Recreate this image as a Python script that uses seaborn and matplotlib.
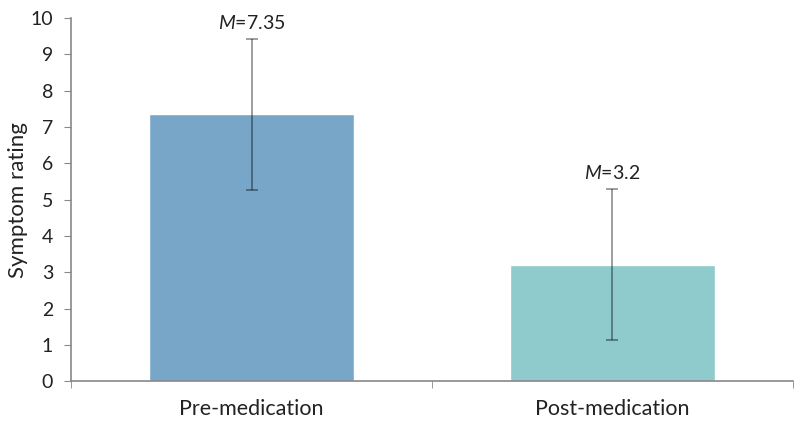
import matplotlib
matplotlib.use("Agg")
import matplotlib.pyplot as plt
import seaborn as sns
import pandas as pd

conditions = ["Pre-medication", "Post-medication"]
means = [7.35, 3.2]
sds = [2.08, 2.08]
bar_colors = ["#77A6C9", "#8FCBCC"]

sns.set_style("white")
plt.rcParams["font.family"] = ["Lato", "DejaVu Sans"]
plt.rcParams["mathtext.fontset"] = "custom"
plt.rcParams["mathtext.it"] = "Lato:italic"
plt.rcParams["mathtext.rm"] = "Lato"

df = pd.DataFrame({"condition": conditions, "rating": means})

fig = plt.figure(figsize=(8, 4.23), dpi=100)
ax = fig.add_axes([0.089, 0.099, 0.902, 0.858])

sns.barplot(data=df, x="condition", y="rating", hue="condition",
            palette=bar_colors, width=0.57, errorbar=None, legend=False,
            saturation=1, ax=ax)

# error bars (semi-transparent so they look light above the bar, dark inside)
ax.errorbar(range(len(conditions)), means, yerr=sds, fmt="none",
            ecolor="black", alpha=0.38, elinewidth=1.4, capsize=4, capthick=1.4)

for i, (m, s) in enumerate(zip(means, sds)):
    ax.text(i, m + s + 0.2, f"$M$={m:g}", ha="center", va="bottom",
            fontsize=14, color="#222222")

ax.set_ylim(0, 10)
ax.set_xlim(-0.5, 1.5)
ax.set_yticks(range(0, 11))
ax.tick_params(axis="y", labelsize=14, length=5, color="#888888",
               direction="out", left=True, pad=8, labelcolor="#222222")
ax.set_xticks([0, 1])
ax.set_xticklabels(conditions, fontsize=15.5, color="#222222")
ax.tick_params(axis="x", length=0, pad=13)
ax.set_xticks([-0.5, 0.5, 1.5], minor=True)
ax.tick_params(axis="x", which="minor", length=5, color="#888888", direction="out", bottom=True)

ax.set_xlabel("")
ax.set_ylabel("Symptom rating", fontsize=16, color="#222222", labelpad=2)

for side in ["top", "right"]:
    ax.spines[side].set_visible(False)
for side in ["left", "bottom"]:
    ax.spines[side].set_color("#888888")
    ax.spines[side].set_linewidth(1.2)

fig.savefig("out.png", dpi=100)
